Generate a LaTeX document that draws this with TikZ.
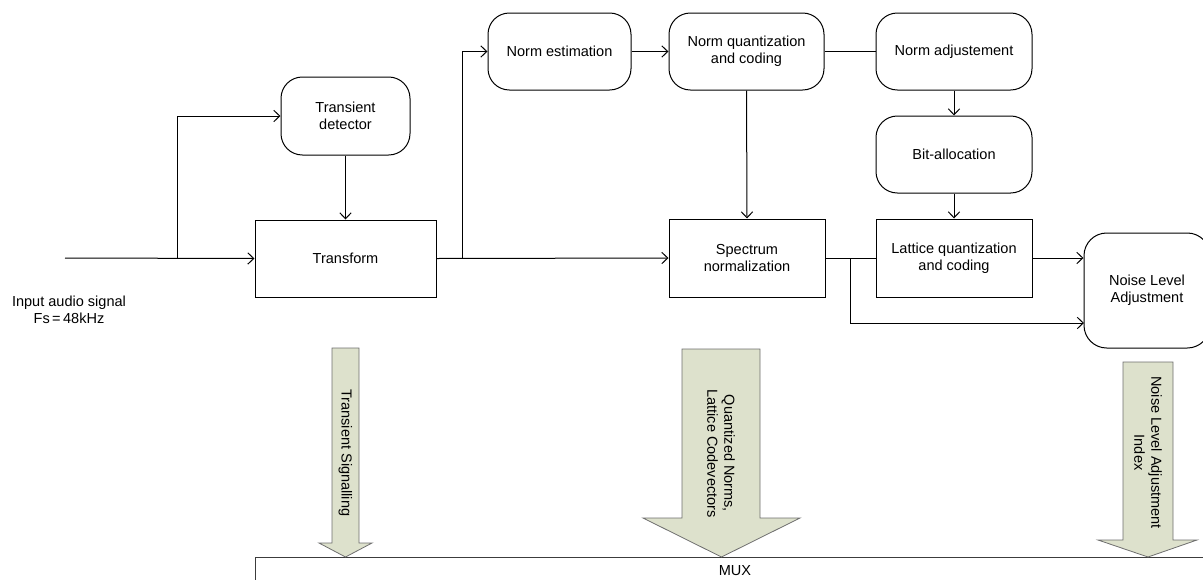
\documentclass[tikz,border=0pt]{standalone}
\usepackage{fontspec}
\setmainfont{Liberation Sans}
\usetikzlibrary{arrows.meta}
\definecolor{flowfill}{RGB}{221,225,204}
\definecolor{flowedge}{RGB}{110,110,110}
\definecolor{muxedge}{RGB}{60,60,60}
\begin{document}
\begin{tikzpicture}[x=0.75pt,y=-0.75pt,
  font=\fontsize{10.9pt}{12.8pt}\selectfont,
  every node/.style={inner sep=0pt, align=center},
  block/.style={draw, line width=0.75pt},
  rblock/.style={draw, line width=0.75pt, rounded corners=16pt},
  link/.style={line width=0.75pt},
  arr/.style={link, -{Straight Barb[length=4.5pt,width=8.5pt]}},
  flow/.style={fill=flowfill, draw=flowedge, line width=0.6pt, line join=miter},
  flowtext/.style={rotate=-90, anchor=west, align=center}
]
\clip (0,0) rectangle (1203,579);

% processing blocks
\node (det) [rblock, minimum width=96.75pt, minimum height=58.5pt] at (345.5,116) {Transient\\detector};
\node (tr)  [block, minimum width=135.75pt, minimum height=57.75pt] at (345.5,258.5) {Transform};
\node (ne)  [rblock, minimum width=107.25pt, minimum height=57.75pt] at (559.5,51.5) {Norm estimation};
\node (nq)  [rblock, minimum width=116.25pt, minimum height=57.75pt] at (746.5,51.5) {Norm quantization\\and coding};
\node (na)  [rblock, minimum width=117pt, minimum height=57.75pt] at (954,51.5) {Norm adjustement};
\node (ba)  [rblock, minimum width=117pt, minimum height=57.75pt] at (954,154.5) {Bit-allocation};
\node (sn)  [block, minimum width=117pt, minimum height=58.5pt] at (747,258) {Spectrum\\normalization};
\node (lq)  [block, minimum width=117pt, minimum height=58.5pt] at (954,258) {Lattice quantization\\and coding};
\node (nl)  [rblock, rounded corners=17pt, minimum width=94.5pt, minimum height=86.25pt] at (1147,290.5) {Noise Level\\Adjustment};

% input
\coordinate (in) at (65,258);
\node (inlbl) at (69,309.5) {Input audio signal\\Fs\,=\,48kHz};

% branch points
\coordinate (b1) at (177,258);
\coordinate (b2) at (462,258);
\coordinate (b3) at (850,258);
\coordinate (nlin) at (1084,323);

% connectors
\draw[arr] (in) -- (tr.west);
\draw[arr] (b1) |- (det.west);
\draw[arr] (det.south) -- (tr.north);
\draw[arr] (tr.east) -- (sn.west);
\draw[arr] (b2) |- (ne.west);
\draw[arr] (ne.east) -- (nq.west);
\draw[link] (nq.east) -- (na.west);
\draw[arr] (nq.south) -- (sn.north);
\draw[arr] (na.south) -- (ba.north);
\draw[arr] (ba.south) -- (lq.north);
\draw[link] (sn.east) -- (lq.west);
\draw[arr] (lq.east) -- (lq.east -| nl.west);
\draw[arr] (b3) |- (nlin);

% multiplexer
\node (mux) [draw=muxedge, line width=0.75pt, anchor=north, minimum width=720pt, minimum height=45pt] at (735,557) {};
\node (muxlbl) at (735,571) {MUX};

% side-information flows into the multiplexer
\path[flow] (332,348) -- (359,348) -- (359,543) -- (372,543) -- (345.5,557)
  -- (319,543) -- (332,543) -- cycle;
\node (ts) [flowtext] at (345.5,389) {Transient Signalling};

\path[flow] (682,349) -- (760,349) -- (760,518) -- (800,518) -- (721.5,557)
  -- (643,518) -- (682,518) -- cycle;
\node (qn) [flowtext] at (721,389) {Quantized Norms,\\Lattice Codevectors};

\path[flow] (1123,362) -- (1173,362) -- (1173,540) -- (1197,540) -- (1148,557)
  -- (1098,540) -- (1123,540) -- cycle;
\node (nli) [flowtext] at (1148,376) {Noise Level Adjustment\\Index};
\end{tikzpicture}
\end{document}
